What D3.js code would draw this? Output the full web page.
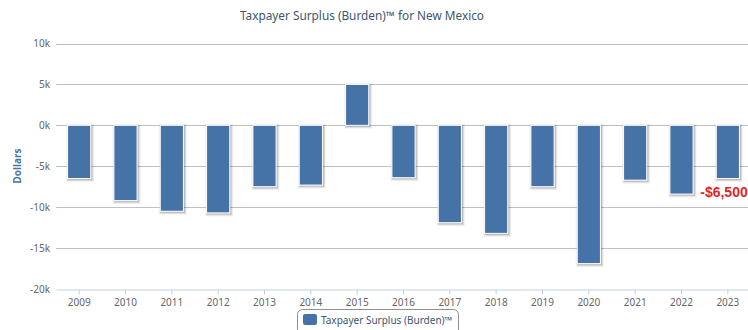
<!DOCTYPE html>
<html><head><meta charset="utf-8">
<script src="https://cdn.jsdelivr.net/npm/d3@7"></script>
<style>body{margin:0;background:#fff;overflow:hidden}svg{display:block;font-family:"Noto Sans",sans-serif}</style>
</head><body>
<svg id="c" width="748" height="330"></svg>
<script>
const years = ["2009","2010","2011","2012","2013","2014","2015","2016","2017","2018","2019","2020","2021","2022","2023"];
const values = [-6500,-9200,-10500,-10700,-7500,-7300,5000,-6400,-11900,-13200,-7500,-16900,-6700,-8400,-6500];
const yTicks = [10000,5000,0,-5000,-10000,-15000,-20000];
const titleText = "Taxpayer Surplus (Burden)™ for New Mexico";
const seriesName = "Taxpayer Surplus (Burden)™";
const yTitle = "Dollars";
const lastLabel = "-$6,500";

const svg = d3.select("#c");
const x = d3.scaleBand().domain(years).range([56,751]).paddingInner(0.5).paddingOuter(0.25);
const y = d3.scaleLinear().domain([-20000,10000]).range([289,43.5]);

// title
svg.append("text").attr("x",362).attr("y",20).attr("text-anchor","middle")
  .attr("fill","#3E576F").attr("font-size","11.8px").text(titleText);

// gridlines
svg.append("g").selectAll("line").data(yTicks.filter(d=>d!==-20000)).join("line")
  .attr("x1",56).attr("x2",751).attr("y1",d=>Math.round(y(d))+0.5).attr("y2",d=>Math.round(y(d))+0.5)
  .attr("stroke","#C0C0C0").attr("stroke-width",1);

// y axis labels
const yAxis = d3.axisLeft(y).tickValues(yTicks).tickSize(0).tickPadding(6)
  .tickFormat(d=>(d/1000)+"k");
const gy = svg.append("g").attr("transform","translate(56,0)").call(yAxis);
gy.select(".domain").remove();
gy.selectAll("text").attr("fill","#666").attr("font-size","10px").attr("font-family","Noto Sans, sans-serif");

// y title
svg.append("text").attr("transform","translate(21,166) rotate(-90)").attr("text-anchor","middle")
  .attr("fill","#4D759E").attr("font-weight","bold").attr("font-size","10px").text(yTitle);

// x axis
const xAxis = d3.axisBottom(x).tickSizeInner(5).tickSizeOuter(0).tickPadding(4);
const gx = svg.append("g").attr("transform","translate(0,289.5)").call(xAxis);
gx.select(".domain").attr("stroke","#C0D0E0");
gx.selectAll(".tick line").attr("stroke","#C0D0E0");
gx.selectAll("text").attr("fill","#666").attr("font-size","10px").attr("font-family","Noto Sans, sans-serif");

// bars with shadow
const bars = svg.append("g");
const bx = d=>x(d.year), by = d=>y(Math.max(0,d.v)), bh = d=>Math.abs(y(d.v)-y(0));
const data = years.map((yr,i)=>({year:yr,v:values[i]}));
[[5,0.05],[3,0.1],[1,0.15]].forEach(([w,o])=>{
  bars.selectAll(null).data(data).join("rect")
    .attr("x",d=>bx(d)+1).attr("y",d=>by(d)+1).attr("width",x.bandwidth()).attr("height",bh)
    .attr("fill","none").attr("stroke","#000").attr("stroke-opacity",o).attr("stroke-width",w);
});
bars.selectAll(null).data(data).join("rect")
  .attr("x",bx).attr("y",by).attr("width",x.bandwidth()).attr("height",bh)
  .attr("fill","#4572A7").attr("stroke","#fff").attr("stroke-width",1);

// data label for last
svg.append("text").attr("x",x("2023")-16).attr("y",197)
  .attr("fill","#E0252B").attr("font-weight","bold").attr("font-size","14px")
  .attr("font-family","Liberation Sans, Arial, sans-serif").text(lastLabel);

// legend
const lg = svg.append("g");
lg.append("rect").attr("x",297.5).attr("y",309.5).attr("width",161).attr("height",30).attr("rx",5)
  .attr("fill","#fff").attr("stroke","#909090").attr("stroke-width",1);
lg.append("rect").attr("x",303).attr("y",314).attr("width",14).attr("height",11).attr("rx",2).attr("fill","#4572A7");
lg.append("text").attr("x",321).attr("y",324).attr("fill","#3E576F").attr("font-size","10px").text(seriesName);
</script>
</body></html>
